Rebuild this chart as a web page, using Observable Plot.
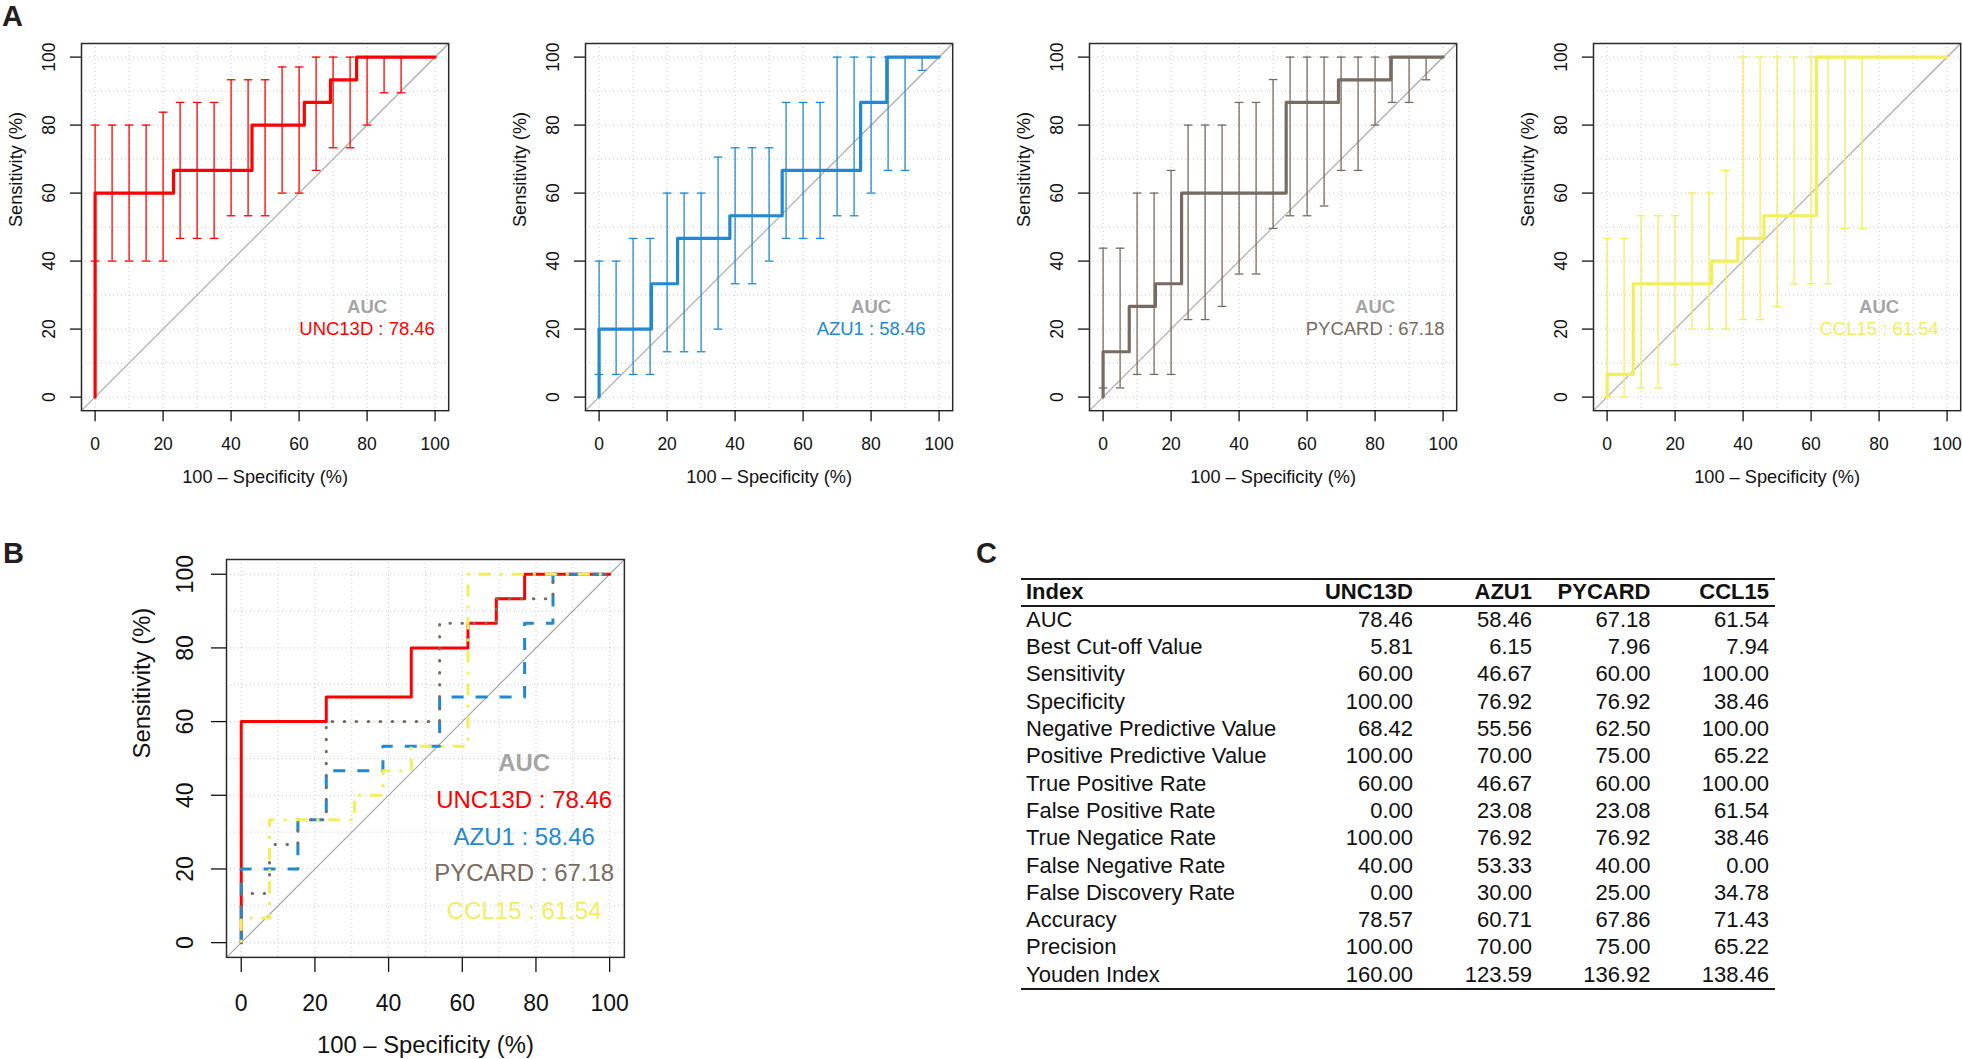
<!DOCTYPE html>
<html>
<head>
<meta charset="utf-8">
<script src="https://cdn.jsdelivr.net/npm/d3@7"></script>
<script src="https://cdn.jsdelivr.net/npm/@observablehq/plot@0.6"></script>
<style>
  html, body { margin: 0; padding: 0; background: #fff; }
  #page { position: relative; width: 1962px; height: 1059px; overflow: hidden; background: #fff;
          font-family: "Liberation Sans", Arial, Helvetica, sans-serif; color: #111; }
  .panel { position: absolute; }
  .panel svg { overflow: visible; max-width: none !important; }
  .letter { position: absolute; font-weight: bold; font-size: 29px; line-height: 33px; color: #231f20; }
  .trow { position: absolute; display: flex; left: 0; width: 754px; font-size: 22px; white-space: nowrap; }
  .trow span { display: block; }
  .rule { position: absolute; left: 0; width: 754px; background: #1a1a1a; }
</style>
</head>
<body>
<div id="page"></div>
<script>
// ---------------- data ----------------
const genes = ["UNC13D", "AZU1", "PYCARD", "CCL15"];
const geneColors = ["#ff0000", "#2189d0", "#776b62", "#f3ee5b"];
const aucValues = [78.46, 58.46, 67.18, 61.54];

// ROC curve vertices: 100 - Specificity (%), Sensitivity (%)
const fprUNC13D = [0, 0, 23.08, 46.15, 61.54, 69.23, 76.92, 100];
const tprUNC13D = [0, 60, 66.67, 80, 86.67, 93.33, 100, 100];
const fprAZU1 = [0, 0, 15.38, 23.08, 38.46, 53.85, 76.92, 84.62, 100];
const tprAZU1 = [0, 20, 33.33, 46.67, 53.33, 66.67, 86.67, 100, 100];
const fprPYCARD = [0, 0, 7.69, 15.38, 23.08, 53.85, 69.23, 84.62, 100];
const tprPYCARD = [0, 13.33, 26.67, 33.33, 60, 86.67, 93.33, 100, 100];
const fprCCL15 = [0, 0, 7.69, 30.77, 38.46, 46.15, 61.54, 100];
const tprCCL15 = [0, 6.67, 33.33, 40, 46.67, 53.33, 100, 100];

// Confidence intervals of sensitivity at these 100 - Specificity values
const ciAt = [0, 5, 10, 15, 20, 25, 30, 35, 40, 45, 50, 55, 60, 65, 70, 75, 80, 85, 90, 95, 100];
const ciLoUNC13D = [40, 40, 40, 40, 40, 46.67, 46.67, 46.67, 53.33, 53.33, 53.33, 60, 60, 66.67, 73.33, 73.33, 80, 89.5, 89.5, 100, 100];
const ciHiUNC13D = [80, 80, 80, 80, 83.8, 86.67, 86.67, 86.67, 93.33, 93.33, 93.33, 97.1, 97.1, 100, 100, 100, 100, 100, 100, 100, 100];
const ciLoAZU1 = [6.67, 6.67, 6.67, 6.67, 13.33, 13.33, 13.33, 20, 33.33, 33.33, 40, 46.67, 46.67, 46.67, 53.33, 53.33, 60, 66.67, 66.67, 96.1, 100];
const ciHiAZU1 = [40, 40, 46.67, 46.67, 60, 60, 60, 70.6, 73.33, 73.33, 73.33, 86.67, 86.67, 86.67, 100, 100, 100, 100, 100, 100, 100];
const ciLoPYCARD = [2.7, 2.7, 6.67, 6.67, 6.67, 22.8, 22.8, 26.67, 36.2, 36.2, 49.6, 53.33, 53.33, 56.2, 66.67, 66.67, 80, 86.67, 86.67, 93.33, 100];
const ciHiPYCARD = [43.8, 43.8, 60, 60, 66.67, 80, 80, 80, 86.67, 86.67, 93.4, 100, 100, 100, 100, 100, 100, 100, 100, 100, 100];
const ciLoCCL15 = [0, 0, 2.7, 2.7, 9.5, 20, 20, 20, 22.8, 22.8, 26.67, 33.33, 33.33, 33.33, 49.6, 49.6, 100, 100, 100, 100, 100];
const ciHiCCL15 = [46.67, 46.67, 53.33, 53.33, 53.33, 60, 60, 66.67, 100, 100, 100, 100, 100, 100, 100, 100, 100, 100, 100, 100, 100];

const axisTicks = [0, 20, 40, 60, 80, 100];
const gridTicks = [0, 10, 20, 30, 40, 50, 60, 70, 80, 90, 100];
const xTitle = "100 \u2013 Specificity (%)";
const yTitle = "Sensitivity (%)";

// Table (panel C)
const tableHeader = ["Index", "UNC13D", "AZU1", "PYCARD", "CCL15"];
const tableIndex = ["AUC", "Best Cut-off Value", "Sensitivity", "Specificity", "Negative Predictive Value",
  "Positive Predictive Value", "True Positive Rate", "False Positive Rate", "True Negatice Rate",
  "False Negative Rate", "False Discovery Rate", "Accuracy", "Precision", "Youden Index"];
const tabUNC13D = [78.46, 5.81, 60.00, 100.00, 68.42, 100.00, 60.00, 0.00, 100.00, 40.00, 0.00, 78.57, 100.00, 160.00];
const tabAZU1 = [58.46, 6.15, 46.67, 76.92, 55.56, 70.00, 46.67, 23.08, 76.92, 53.33, 30.00, 60.71, 70.00, 123.59];
const tabPYCARD = [67.18, 7.96, 60.00, 76.92, 62.50, 75.00, 60.00, 23.08, 76.92, 40.00, 25.00, 67.86, 75.00, 136.92];
const tabCCL15 = [61.54, 7.94, 100.00, 38.46, 100.00, 65.22, 100.00, 61.54, 38.46, 0.00, 34.78, 71.43, 65.22, 138.46];

// ---------------- build ----------------
const fprs = [fprUNC13D, fprAZU1, fprPYCARD, fprCCL15];
const tprs = [tprUNC13D, tprAZU1, tprPYCARD, tprCCL15];
const ciLos = [ciLoUNC13D, ciLoAZU1, ciLoPYCARD, ciLoCCL15];
const ciHis = [ciHiUNC13D, ciHiAZU1, ciHiPYCARD, ciHiCCL15];
const tabCols = [tabUNC13D, tabAZU1, tabPYCARD, tabCCL15];

const rocData = genes.map((g, i) => fprs[i].map((x, j) => ({gene: g, x, y: tprs[i][j]})));
const ciData = genes.map((g, i) => ciAt.map((x, j) => ({gene: g, x, lo: ciLos[i][j], hi: ciHis[i][j]}))
  .filter(d => d.hi - d.lo > 0.01));

const domain = [-4, 104];
const fontFamily = '"Liberation Sans", Arial, Helvetica, sans-serif';
const page = document.getElementById("page");

const capSymbol = {
  draw(ctx, size) {
    const w = Math.sqrt(size / Math.PI);
    ctx.moveTo(-w, 0);
    ctx.lineTo(w, 0);
  }
};

function place(node, left, top, w, h) {
  const d = document.createElement("div");
  d.className = "panel";
  d.style.left = left + "px";
  d.style.top = top + "px";
  d.style.width = w + "px";
  d.style.height = h + "px";
  d.appendChild(node);
  page.appendChild(d);
}

function commonMarks() {
  return [
    Plot.gridX(gridTicks, {stroke: "#c9c9c9", strokeOpacity: 1, strokeWidth: 1, strokeDasharray: "1,3"}),
    Plot.gridY(gridTicks, {stroke: "#c9c9c9", strokeOpacity: 1, strokeWidth: 1, strokeDasharray: "1,3"}),
    Plot.link([domain], {x1: d => d[0], y1: d => d[0], x2: d => d[1], y2: d => d[1], stroke: "#a5a5a5", strokeWidth: 1.1})
  ];
}

function axesMarks(cfg) {
  return [
    Plot.frame({stroke: "#2a2a2a", strokeWidth: 1.5}),
    Plot.axisX({ticks: axisTicks, tickSize: cfg.tickSize, tickPadding: cfg.xPad, fontSize: cfg.tickFont, label: null, strokeWidth: 1.3}),
    Plot.axisY({ticks: axisTicks, tickSize: cfg.tickSize, tickPadding: cfg.yPad, tickRotate: -90, fontSize: cfg.tickFont, label: null, strokeWidth: 1.3}),
    Plot.text([xTitle], {frameAnchor: "bottom", dy: cfg.xTitleOff, text: d => d, lineAnchor: "middle", fontSize: cfg.titleFont, fill: "#111"}),
    Plot.text([yTitle], {frameAnchor: "left", dx: -cfg.yTitleOff, rotate: -90, text: d => d, lineAnchor: "middle", fontSize: cfg.titleFont, fill: "#111"})
  ];
}

// ---- Panel A: four single ROC plots ----
const aCfg = {tickSize: 11, xPad: 15.5, yPad: 15, tickFont: 17.5, titleFont: 18.2, xTitleOff: 66.7, yTitleOff: 65};
const aFrame = 367.2;
const aMargin = {left: 80, top: 8, right: 8, bottom: 80};
const aFrameLeft = [80.7, 585.1, 1089.4, 1593.4];
const aFrameTop = 43.1;

genes.forEach((g, i) => {
  const col = geneColors[i];
  const W = aMargin.left + aFrame + aMargin.right;
  const H = aMargin.top + aFrame + aMargin.bottom;
  const chart = Plot.plot({
    width: W,
    height: H,
    marginLeft: aMargin.left, marginTop: aMargin.top, marginRight: aMargin.right, marginBottom: aMargin.bottom,
    x: {domain, label: null, axis: null},
    y: {domain, label: null, axis: null},
    style: {fontFamily, fontSize: "18px", background: "transparent", color: "#111", overflow: "visible", maxWidth: "none"},
    marks: [
      ...commonMarks(),
      Plot.ruleX(ciData[i], {x: "x", y1: "lo", y2: "hi", stroke: col, strokeWidth: 1.3}),
      Plot.dot(ciData[i], {x: "x", y: "lo", symbol: capSymbol, r: 4.3, fill: "none", stroke: col, strokeWidth: 1.3}),
      Plot.dot(ciData[i], {x: "x", y: "hi", symbol: capSymbol, r: 4.3, fill: "none", stroke: col, strokeWidth: 1.3}),
      Plot.line(rocData[i], {x: "x", y: "y", curve: "step-after", stroke: col, strokeWidth: 3.2, strokeLinejoin: "round", strokeLinecap: "round"}),
      ...axesMarks(aCfg),
      Plot.text(["AUC"], {x: 80, y: 26.6, text: d => d, fill: "#a5a5a5", fontWeight: "bold", fontSize: 18.5, lineAnchor: "middle"}),
      Plot.text([`${g} : ${aucValues[i].toFixed(2)}`], {x: 80, y: 20, text: d => d, fill: col, fontSize: 18.5, lineAnchor: "middle"})
    ]
  });
  place(chart, aFrameLeft[i] - aMargin.left, aFrameTop - aMargin.top, W, H);
});

// ---- Panel B: combined ROC plot ----
const bCfg = {tickSize: 15, xPad: 21.8, yPad: 19, tickFont: 23, titleFont: 23.8, xTitleOff: 88, yTitleOff: 83.8};
const bFrame = 397.9;
const bMargin = {left: 100, top: 8, right: 8, bottom: 105};
const bDash = [null, "12,12", "0.5,11.5", "3,9,12,9"];
const bCap = ["round", "butt", "round", "butt"];
const bAucY = [38.6, 28.6, 18.7, 8.5];
const bAucHeadY = 48.7;
const bAucX = 76.8;
const bW = bMargin.left + bFrame + bMargin.right;
const bH = bMargin.top + bFrame + bMargin.bottom;

const bChart = Plot.plot({
  width: bW,
  height: bH,
  marginLeft: bMargin.left, marginTop: bMargin.top, marginRight: bMargin.right, marginBottom: bMargin.bottom,
  x: {domain, label: null, axis: null},
  y: {domain, label: null, axis: null},
  style: {fontFamily, fontSize: "23px", background: "transparent", color: "#111", overflow: "visible", maxWidth: "none"},
  marks: [
    ...commonMarks(),
    ...genes.map((g, i) => Plot.line(rocData[i], {x: "x", y: "y", curve: "step-after", stroke: geneColors[i],
      strokeWidth: 3, strokeDasharray: bDash[i], strokeLinecap: bCap[i], strokeLinejoin: "round"})),
    ...axesMarks(bCfg),
    Plot.text(["AUC"], {x: bAucX, y: bAucHeadY, text: d => d, fill: "#a5a5a5", fontWeight: "bold", fontSize: 24, lineAnchor: "middle"}),
    Plot.text(genes.map((g, i) => ({label: `${g} : ${aucValues[i].toFixed(2)}`, y: bAucY[i], color: geneColors[i]})),
      {x: bAucX, y: "y", text: "label", fill: "color", fontSize: 24, lineAnchor: "middle"})
  ]
});
place(bChart, 225.5 - bMargin.left, 559 - bMargin.top, bW, bH);

// ---- Panel letters ----
[["A", 2, 0], ["B", 3, 536.5], ["C", 976, 536.5]].forEach(([t, x, y]) => {
  const d = document.createElement("div");
  d.className = "letter";
  d.textContent = t;
  d.style.left = x + "px";
  d.style.top = y + "px";
  page.appendChild(d);
});

// ---- Panel C: table ----
const table = document.createElement("div");
table.style.position = "absolute";
table.style.left = "1021px";
table.style.top = "578.3px";
table.style.width = "754px";
table.style.height = "420px";
page.appendChild(table);

const colWidths = [270, 122, 119, 118.5, 118.5];
const headerH = 24.6, rowH = 27.3, ruleH = 2;

function addRule(top) {
  const r = document.createElement("div");
  r.className = "rule";
  r.style.top = top + "px";
  r.style.height = ruleH + "px";
  table.appendChild(r);
}
function addRow(cells, top, h, bold) {
  const row = document.createElement("div");
  row.className = "trow";
  row.style.top = top + "px";
  row.style.height = h + "px";
  row.style.lineHeight = h + "px";
  if (bold) row.style.fontWeight = "bold";
  cells.forEach((c, k) => {
    const s = document.createElement("span");
    s.textContent = c;
    s.style.width = colWidths[k] + "px";
    s.style.textAlign = k === 0 ? "left" : "right";
    if (k === 0) s.style.paddingLeft = "5px";
    if (k === 0) s.style.width = (colWidths[k] - 5) + "px";
    row.appendChild(s);
  });
  table.appendChild(row);
}

addRule(0);
addRow(tableHeader, ruleH, headerH, true);
addRule(ruleH + headerH);
const bodyTop = ruleH + headerH + ruleH - 1;
tableIndex.forEach((name, r) => {
  addRow([name, ...tabCols.map(c => c[r].toFixed(2))], bodyTop + r * rowH, rowH, false);
});
addRule(bodyTop + tableIndex.length * rowH);
</script>
</body>
</html>
